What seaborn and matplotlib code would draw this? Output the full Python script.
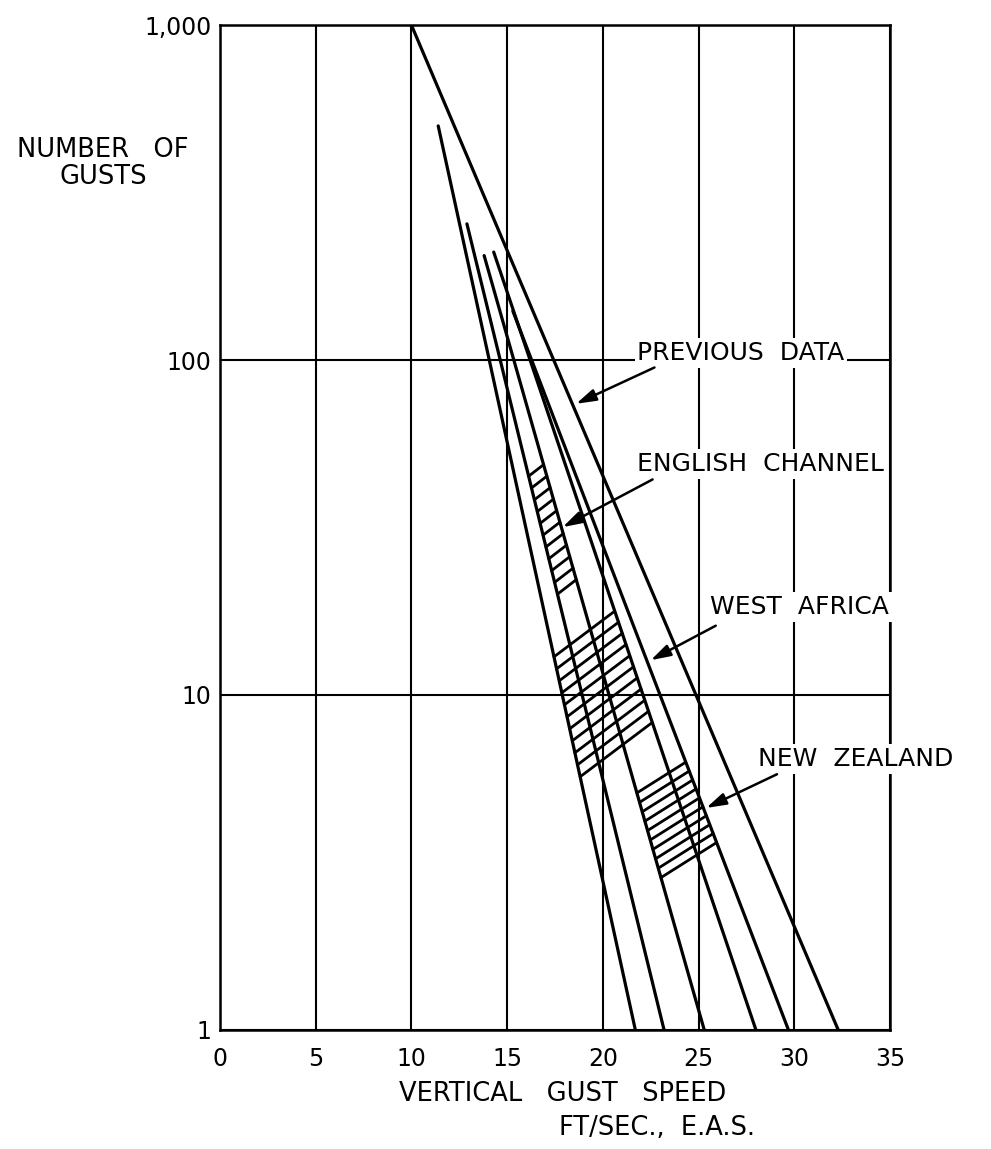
import numpy as np
import pandas as pd
import matplotlib
matplotlib.use("Agg")
import matplotlib.pyplot as plt
import seaborn as sns

# =========================
# Data
# =========================

curve_names = ["previous", "curve_1", "curve_2", "curve_3", "curve_4", "curve_5"]
start_speed = [10.0, 11.4, 12.9, 13.8, 14.3, 15.3]
start_gusts = [1000, 500, 255, 205, 210, 140]
end_speed = [32.3, 21.7, 23.2, 25.3, 28.0, 29.7]
end_gusts = [1, 1, 1, 1, 1, 1]

band_names = ["ENGLISH CHANNEL", "WEST AFRICA", "NEW ZEALAND"]
band_left = ["curve_2", "curve_1", "curve_3"]
band_right = ["curve_3", "curve_4", "curve_5"]
band_top = [45.0, 13.0, 5.1]
band_bottom = [20.0, 5.7, 2.85]
band_strokes = [11, 11, 10]
band_slope = [0.044, 0.043, 0.036]

label_text = ["PREVIOUS  DATA", "ENGLISH  CHANNEL", "WEST  AFRICA", "NEW  ZEALAND"]
label_x = [21.8, 21.8, 25.6, 28.1]
label_y = [100, 49, 18.3, 6.44]
arrow_tail_x = [22.7, 22.6, 25.9, 29.1]
arrow_tail_y = [95, 44, 16.1, 5.8]
arrow_head_x = [18.6, 17.9, 22.5, 25.4]
arrow_head_y = [74, 31.7, 12.7, 4.6]

x_ticks = [0, 5, 10, 15, 20, 25, 30, 35]
y_ticks = [1, 10, 100, 1000]
y_tick_labels = ["1", "10", "100", "1,000"]


# =========================
# Build tables
# =========================

curves = pd.DataFrame({
    "curve": curve_names * 2,
    "speed": start_speed + end_speed,
    "gusts": start_gusts + end_gusts,
})

info = pd.DataFrame({
    "start": start_speed,
    "end": end_speed,
    "top": np.log10(start_gusts),
}, index=curve_names)


def curve_x(name, logn):
    r = info.loc[name]
    return r.end - (r.end - r.start) * logn / r.top


rows = []
for b in range(len(band_names)):
    s = band_slope[b]
    right = info.loc[band_right[b]]
    k = (right.end - right.start) / right.top
    levels = np.linspace(np.log10(band_top[b]), np.log10(band_bottom[b]), band_strokes[b])
    for i, l0 in enumerate(levels):
        x0 = curve_x(band_left[b], l0)
        l1 = (l0 + s * (right.end - x0)) / (1 + s * k)
        x1 = curve_x(band_right[b], l1)
        rows.append((f"{b}_{i}", x0, 10 ** l0))
        rows.append((f"{b}_{i}", x1, 10 ** l1))

hatch = pd.DataFrame(rows, columns=["stroke", "speed", "gusts"])


# =========================
# Plot
# =========================

sns.set_theme(style="white")
plt.rcParams["font.family"] = ["DejaVu Sans"]

fig = plt.figure(figsize=(9.91, 11.49), dpi=100)
ax = fig.add_axes([0.222, 0.1036, 0.676, 0.8746])

ax.set_yscale("log")
ax.set_xlim(0, 35)
ax.set_ylim(1, 1000)

ax.set_xticks(x_ticks)
ax.set_yticks(y_ticks)
ax.set_yticklabels(y_tick_labels)
ax.minorticks_off()
ax.tick_params(axis="both", length=0, labelsize=17, colors="black")
ax.tick_params(axis="x", pad=12)
ax.tick_params(axis="y", pad=6)

ax.grid(True, color="black", lw=1.5, zorder=0)
for sp in ax.spines.values():
    sp.set_color("black")
    sp.set_linewidth(1.8)

sns.lineplot(
    data=curves, x="speed", y="gusts", units="curve",
    estimator=None, sort=False, color="black", lw=2.3, ax=ax
)

sns.lineplot(
    data=hatch, x="speed", y="gusts", units="stroke",
    estimator=None, sort=False, color="black", lw=2.0, ax=ax
)

for i in range(len(label_text)):
    ax.text(
        label_x[i], label_y[i], label_text[i],
        fontsize=18, color="black",
        ha="left", va="baseline" if i == 0 else "center",
        bbox=dict(facecolor="white", edgecolor="none", pad=2),
        zorder=5, clip_on=False
    )
    ax.annotate(
        "",
        xy=(arrow_head_x[i], arrow_head_y[i]),
        xytext=(arrow_tail_x[i], arrow_tail_y[i]),
        arrowprops=dict(
            arrowstyle="-|>,head_length=0.6,head_width=0.18",
            mutation_scale=20, color="black", lw=1.8,
            shrinkA=0, shrinkB=0
        ),
        zorder=6
    )

ax.set_xlabel("")
ax.set_ylabel("")

ax.text(0.512, -0.0637, "VERTICAL   GUST   SPEED", transform=ax.transAxes,
        fontsize=18.5, ha="center", va="center", color="black")
ax.text(0.652, -0.0975, "FT/SEC.,  E.A.S.", transform=ax.transAxes,
        fontsize=18.5, ha="center", va="center", color="black")

fig.text(0.104, 0.858, "NUMBER   OF\nGUSTS", fontsize=18.5, ha="center",
         va="center", multialignment="center", linespacing=1.05, color="black")

fig.savefig("out.png", dpi=100)
